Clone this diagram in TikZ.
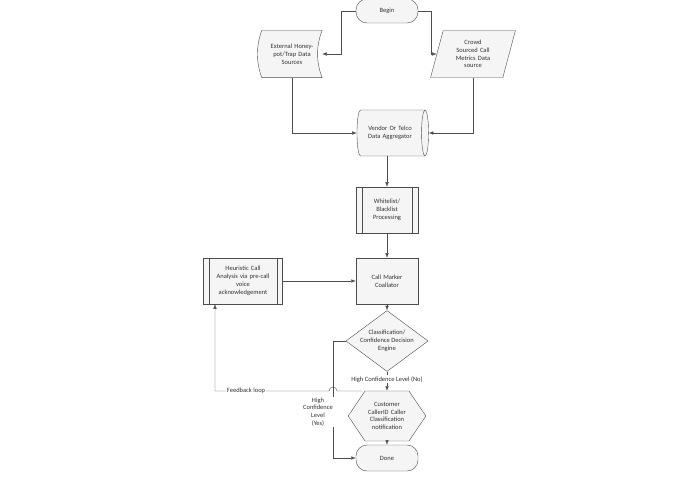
\documentclass[tikz,border=0pt]{standalone}
\usepackage{fontspec}
\setmainfont{Carlito}
\usetikzlibrary{arrows.meta,shapes.geometric,shapes.symbols}

\begin{document}
\begin{tikzpicture}[x=1pt,y=-1pt,
    every node/.style={font=\fontsize{6.5}{7.8}\selectfont,align=center,text=black!80},
    shade/.style={draw=black!70,fill=black!4},
    flow/.style={draw=black!70,-{Latex[length=1.6mm]}},
    term/.style={shade,rounded corners=11pt,minimum width=62pt,minimum height=24pt},
    proc/.style={shade,minimum width=62pt,minimum height=46pt,text width=50pt}]
  \useasboundingbox (0,0) rectangle (695,494);

  % terminals
  \node[term] (begin) at (387,11) {Begin};
  \node[term,minimum height=26pt] (done) at (387,458) {Done};

  % sources
  \node[minimum width=60pt,minimum height=47pt] (honey) at (292,54) {};
  \path[shade] (honey.north west) -- (honey.north east)
    .. controls (316,46) and (316,62) .. (honey.south east) -- (honey.south west)
    .. controls (256,62) and (256,46) .. cycle;
  \node[text width=56pt] (honeytext) at (292,54) {External Honey-\\pot/Trap Data\\Sources};
  \node[shade,trapezium,trapezium left angle=75,trapezium right angle=105,
    minimum height=47pt,text width=44pt,inner xsep=0pt] (crowd) at (473,54) {Crowd\\Sourced Call\\Metrics Data\\source};

  % aggregation
  \node[shade,cylinder,shape aspect=0.35,minimum width=46pt,minimum height=68pt,
    text width=56pt] (vendor) at (390,133) {Vendor Or Telco\\Data Aggregator};
  \node[proc] (lists) at (387,210) {Whitelist/\\Blacklist\\Processing};
  \node[proc] (marker) at (387,281) {Call Marker\\Coallator};
  \node[proc,minimum width=79pt,text width=70pt,inner xsep=2pt] (heur) at (243,281) {Heuristic Call\\Analysis via pre-call\\voice\\acknowledgement};
  \foreach \n in {lists,heur} {
      \draw[black!70] ([xshift=6pt]\n.north west) -- ([xshift=6pt]\n.south west);
      \draw[black!70] ([xshift=-6pt]\n.north east) -- ([xshift=-6pt]\n.south east);
  }

  % decision
  \node[shade,diamond,aspect=1.35,minimum width=78pt,inner sep=0pt] (engine) at (387,341) {Classification/\\Confidence Decision\\Engine};
  \node[shade,signal,signal to=east and west,signal pointer angle=112,
    minimum height=50pt,text width=44pt,inner xsep=0pt] (notify) at (387,416) {Customer\\CallerID Caller\\Classification\\notification};

  % connectors
  \draw[flow] (begin.west) -- (341,11) |- (honey.east);
  \draw[flow] (begin.east) -- (431,11) |- (crowd.west);
  \draw[flow] (honey.south) |- (vendor.west);
  \draw[flow] (crowd.south) |- (vendor.east);
  \draw[flow] (vendor.south -| lists.north) -- (lists.north);
  \draw[flow] (lists.south) -- (marker.north);
  \draw[flow] (heur.east) -- (marker.west);
  \draw[flow] (marker.south) -- (engine.north);
  \draw[flow] (engine.south) -- node[fill=white,inner sep=1pt,pos=0.4] {High Confidence Level (No)} (notify.north);
  \draw[flow] (notify.south) -- (done.north);
  \draw[flow] (engine.west) -- (333,341) -- (333,458) -- (done.west);
  \node[fill=white,inner sep=1pt] (yes) at (318,412) {High\\Confidence\\Level\\(Yes)};
  \coordinate (fb) at (362,391);
  \draw[flow] (fb) -- (337,391) arc (0:-180:4) -- (215,391) -- (heur.south -| 215,0);
  \node[fill=white,inner sep=1pt] (loop) at (246,391) {Feedback loop};
\end{tikzpicture}
\end{document}
